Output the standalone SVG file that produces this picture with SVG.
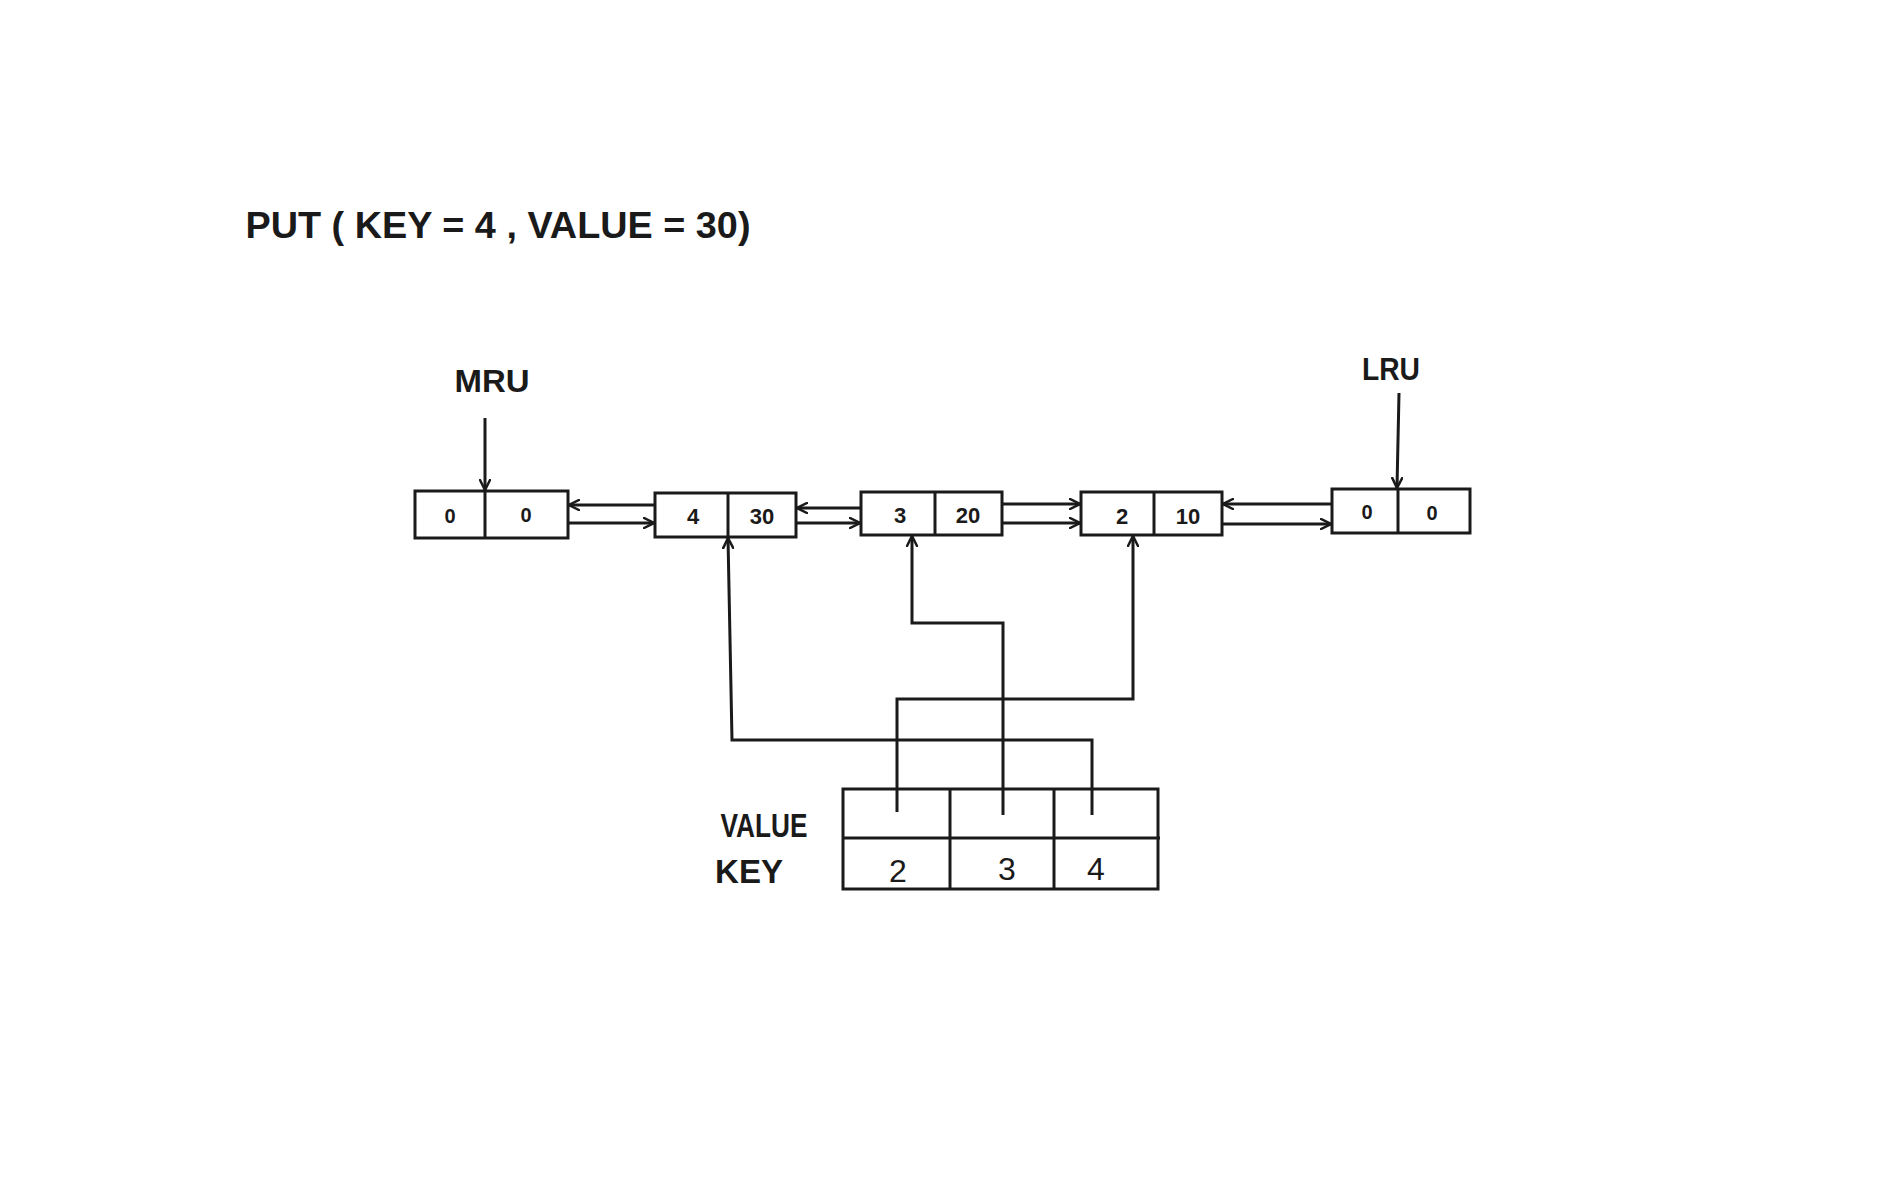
<svg xmlns="http://www.w3.org/2000/svg" width="1900" height="1200" viewBox="0 0 1900 1200">
<style>
  .box{fill:#fff;stroke:#1a1a1a;stroke-width:3}
  .div{stroke:#1a1a1a;stroke-width:3}
  .conn{fill:none;stroke:#1a1a1a;stroke-width:3;stroke-linejoin:miter}
  .t{font-family:"Liberation Sans",Arial,sans-serif;fill:#1a1a1a;text-anchor:middle;font-weight:bold}
  .num{font-size:22px}
  .zero{font-size:20px}
  .lbl{font-size:32px}
  .key{font-size:32px;font-weight:normal}
</style>
<defs>
  <marker id="ah" viewBox="0 0 12 12" refX="11" refY="6" markerWidth="12" markerHeight="12" markerUnits="userSpaceOnUse" orient="auto">
    <path d="M1,1 L11,6 L1,11" fill="none" stroke="#1a1a1a" stroke-width="2.5" stroke-linecap="round"/>
  </marker>
</defs>
<rect width="1900" height="1200" fill="#fff"/>

<g id="title">
  <text class="t" x="498" y="238" font-size="36" textLength="505" lengthAdjust="spacingAndGlyphs">PUT ( KEY = 4 , VALUE = 30)</text>
</g>

<g id="mru-label"><text class="t lbl" x="492" y="392" textLength="75" lengthAdjust="spacingAndGlyphs">MRU</text></g>
<g id="lru-label"><text class="t lbl" x="1391" y="380" textLength="58" lengthAdjust="spacingAndGlyphs">LRU</text></g>

<g id="node-head">
  <rect class="box" x="415" y="491" width="153" height="47"/>
  <line class="div" x1="485" y1="491" x2="485" y2="538"/>
  <text class="t zero" x="450" y="523">0</text>
  <text class="t zero" x="526" y="522">0</text>
</g>
<g id="node-4">
  <rect class="box" x="655" y="493" width="141" height="44"/>
  <line class="div" x1="728" y1="493" x2="728" y2="537"/>
  <text class="t num" x="693" y="524">4</text>
  <text class="t num" x="762" y="524">30</text>
</g>
<g id="node-3">
  <rect class="box" x="861" y="492" width="141" height="43"/>
  <line class="div" x1="935" y1="492" x2="935" y2="535"/>
  <text class="t num" x="900" y="523">3</text>
  <text class="t num" x="968" y="523">20</text>
</g>
<g id="node-2">
  <rect class="box" x="1081" y="492" width="141" height="43"/>
  <line class="div" x1="1154" y1="492" x2="1154" y2="535"/>
  <text class="t num" x="1122" y="524">2</text>
  <text class="t num" x="1188" y="524">10</text>
</g>
<g id="node-tail">
  <rect class="box" x="1332" y="489" width="138" height="44"/>
  <line class="div" x1="1398" y1="489" x2="1398" y2="533"/>
  <text class="t zero" x="1367" y="519">0</text>
  <text class="t zero" x="1432" y="520">0</text>
</g>

<g id="hashmap">
  <rect class="box" x="843" y="789" width="315" height="100"/>
  <line class="div" x1="843" y1="838" x2="1160" y2="838"/>
  <line class="div" x1="950" y1="789" x2="950" y2="889"/>
  <line class="div" x1="1054" y1="789" x2="1054" y2="889"/>
  <text class="t key" x="898" y="882">2</text>
  <text class="t key" x="1007" y="880">3</text>
  <text class="t key" x="1096" y="880" font-size="28">4</text>
</g>
<g id="value-label"><text class="t" x="764" y="837" font-size="34" textLength="87" lengthAdjust="spacingAndGlyphs">VALUE</text></g>
<g id="key-label"><text class="t" x="749" y="883" font-size="34" textLength="68" lengthAdjust="spacingAndGlyphs">KEY</text></g>

<g id="connectors">
  <line class="conn" x1="485" y1="418" x2="485" y2="490" marker-end="url(#ah)"/>
  <line class="conn" x1="1399" y1="393" x2="1397" y2="488" marker-end="url(#ah)"/>
  <line class="conn" x1="655" y1="505" x2="569" y2="505" marker-end="url(#ah)"/>
  <line class="conn" x1="568" y1="523" x2="654" y2="523" marker-end="url(#ah)"/>
  <line class="conn" x1="861" y1="508" x2="797" y2="508" marker-end="url(#ah)"/>
  <line class="conn" x1="796" y1="523" x2="860" y2="523" marker-end="url(#ah)"/>
  <line class="conn" x1="1002" y1="504" x2="1080" y2="504" marker-end="url(#ah)"/>
  <line class="conn" x1="1002" y1="523" x2="1080" y2="523" marker-end="url(#ah)"/>
  <line class="conn" x1="1332" y1="504" x2="1223" y2="504" marker-end="url(#ah)"/>
  <line class="conn" x1="1222" y1="524" x2="1331" y2="524" marker-end="url(#ah)"/>
  <polyline class="conn" points="1092,815 1092,740 732,740 728,538" marker-end="url(#ah)"/>
  <polyline class="conn" points="1003,815 1003,623 912,623 912,536" marker-end="url(#ah)"/>
  <polyline class="conn" points="897,812 897,699 1133,699 1133,536" marker-end="url(#ah)"/>
</g>
</svg>
